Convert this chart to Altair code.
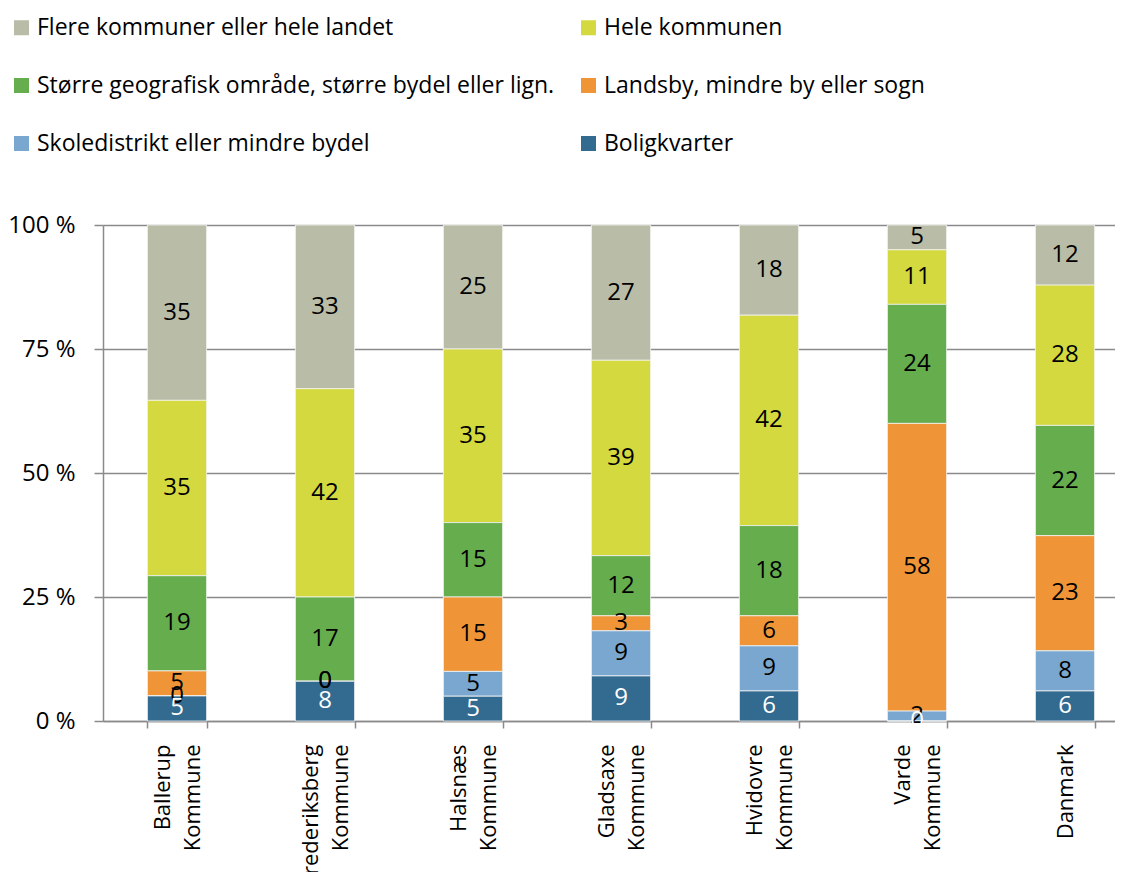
import altair as alt
import pandas as pd

categories = ["Ballerup Kommune", "Frederiksberg Kommune", "Halsnæs Kommune",
              "Gladsaxe Kommune", "Hvidovre Kommune", "Varde Kommune", "Danmark"]

series = ["Flere kommuner eller hele landet", "Hele kommunen",
          "Større geografisk område, større bydel eller lign.",
          "Landsby, mindre by eller sogn", "Skoledistrikt eller mindre bydel",
          "Boligkvarter"]

colors = ["#B9BCA6", "#D3D93E", "#66AD4E", "#EF9537", "#7AA7D0", "#326A90"]

flere = [35, 33, 25, 27, 18, 5, 12]
hele = [35, 42, 35, 39, 42, 11, 28]
storre = [19, 17, 15, 12, 18, 24, 22]
landsby = [5, 0, 15, 3, 6, 58, 23]
skole = [0, 0, 5, 9, 9, 2, 8]
bolig = [5, 8, 5, 9, 6, 0, 6]

series_values = [flere, hele, storre, landsby, skole, bolig]

rows = []
for si, (name, vals) in enumerate(zip(series, series_values)):
    for ci, cat in enumerate(categories):
        rows.append({"category": cat, "series": name, "value": vals[ci],
                     "order": len(series) - 1 - si})
df = pd.DataFrame(rows)

FONT = "Open Sans"
GRAY = "#8A8A8D"

x_axis = alt.Axis(title=None, labelAngle=270, labelAlign="right", labelBaseline="middle",
                  labelFont=FONT, labelFontSize=22, labelLineHeight=30, labelColor="black",
                  labelPadding=16, tickBand="extent", tickSize=7, tickColor=GRAY,
                  tickWidth=1.5, domainColor=GRAY, domainWidth=1.5, grid=False,
                  labelOffset=alt.ExprRef(expr="indexof(datum.label, ' ') >= 0 ? -15 : 0"),
                  labelExpr="split(datum.label, ' ')")
y_axis = alt.Axis(title=None, values=[0, 0.25, 0.5, 0.75, 1],
                  labelExpr="format(datum.value * 100, 'd') + ' %'",
                  labelFont=FONT, labelFontSize=24, labelColor="black", labelPadding=19,
                  tickSize=9, tickColor=GRAY, tickWidth=1.5, domainColor=GRAY,
                  domainWidth=1.5, grid=True, gridColor=GRAY, gridWidth=1.5)

x_enc = alt.X("category:N", sort=categories, axis=x_axis,
              scale=alt.Scale(range=[0, 1036], paddingInner=0.6, paddingOuter=0.3))
y_scale = alt.Scale(domain=[0, 1], nice=False)

base = alt.Chart(df).transform_stack(
    stack="value", groupby=["category"], as_=["y0", "y1"], offset="normalize",
    sort=[alt.SortField("order", order="ascending")]
).transform_calculate(mid="(datum.y0 + datum.y1) / 2")

bars = base.mark_bar(stroke="#F4F4F4", strokeWidth=0.8).encode(
    x=x_enc,
    y=alt.Y("y0:Q", scale=y_scale, axis=y_axis),
    y2="y1:Q",
    color=alt.Color("series:N", scale=alt.Scale(domain=series, range=colors),
                    legend=alt.Legend(title=None, orient="none", legendX=-93, legendY=-209,
                                      columns=2, direction="horizontal",
                                      labelFont=FONT, labelFontSize=23, labelColor="black",
                                      symbolType="square", symbolSize=225, symbolStrokeWidth=0,
                                      labelOffset=4, rowPadding=34, columnPadding=22,
                                      labelLimit=700)),
)

labels = base.mark_text(font=FONT, fontSize=24, baseline="middle", align="center").encode(
    x=x_enc,
    y=alt.Y("mid:Q", scale=y_scale, axis=y_axis),
    text=alt.Text("value:Q"),
    color=alt.condition(alt.datum.series == "Boligkvarter", alt.value("white"), alt.value("black")),
)

chart = alt.layer(bars, labels).properties(
    width=1012, height=496,
    autosize=alt.AutoSizeParams(type="none"),
    padding={"left": 95, "top": 217, "right": 0, "bottom": 151},
).configure_view(stroke=None)

chart.save("out.html", embed_options={"renderer": "svg", "actions": False})
